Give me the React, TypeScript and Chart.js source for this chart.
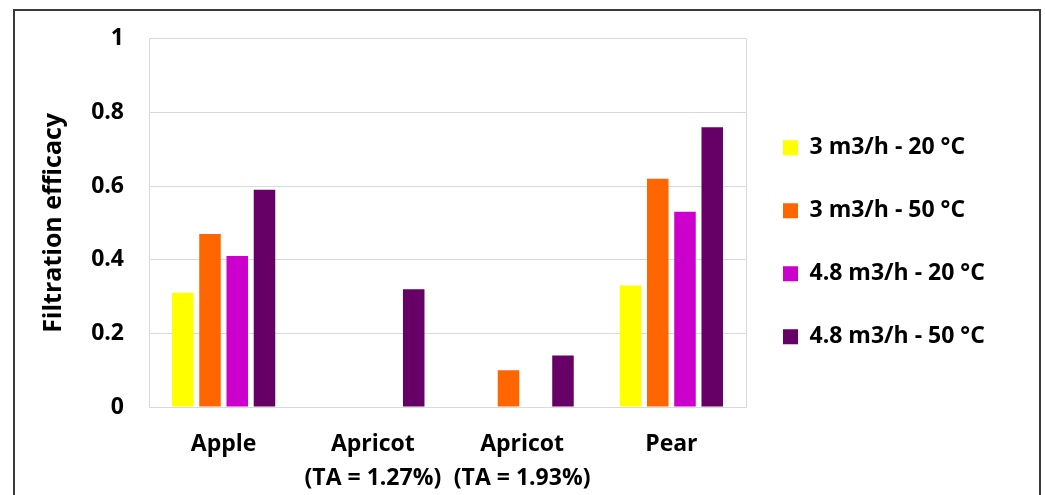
import React, { useEffect, useRef } from "react";
import { Chart, registerables } from "chart.js";

Chart.register(...registerables);

const categories: string[][] = [["Apple"], ["Apricot", "(TA = 1.27%)"], ["Apricot", "(TA = 1.93%)"], ["Pear"]];
const seriesNames = ["3 m3/h - 20 °C", "3 m3/h - 50 °C", "4.8 m3/h - 20 °C", "4.8 m3/h - 50 °C"];
const flow3Temp20 = [0.31, null, null, 0.33];
const flow3Temp50 = [0.47, null, 0.1, 0.62];
const flow48Temp20 = [0.41, null, null, 0.53];
const flow48Temp50 = [0.59, 0.32, 0.14, 0.76];
const seriesColors = ["#FFFF00", "#FF6600", "#CC00CC", "#660066"];
const yMin = 0;
const yMax = 1;
const yStep = 0.2;
const yTitle = "Filtration efficacy";

const FONT = "'Open Sans', Lato, sans-serif";

const plotFrame = {
  id: "plotFrame",
  afterDatasetsDraw(chart: any) {
    const { ctx, chartArea } = chart;
    ctx.save();
    ctx.strokeStyle = "#d9d9d9";
    ctx.lineWidth = 1;
    ctx.beginPath();
    ctx.moveTo(chartArea.right + 0.5, chartArea.top);
    ctx.lineTo(chartArea.right + 0.5, chartArea.bottom);
    ctx.stroke();
    ctx.restore();
  },
};

export default function App() {
  const ref = useRef<HTMLCanvasElement | null>(null);

  useEffect(() => {
    if (!ref.current) return;
    const allSeries = [flow3Temp20, flow3Temp50, flow48Temp20, flow48Temp50];
    const chart = new Chart(ref.current, {
      type: "bar",
      data: {
        labels: categories,
        datasets: allSeries.map((d, i) => ({
          label: seriesNames[i],
          data: d,
          backgroundColor: seriesColors[i],
          borderWidth: 0,
          categoryPercentage: 0.73,
          barPercentage: 0.79,
        })),
      },
      options: {
        responsive: false,
        maintainAspectRatio: false,
        animation: false,
        layout: { padding: { top: 37, bottom: 0, left: 14, right: 55 } },
        plugins: {
          tooltip: { enabled: false },
          legend: {
            position: "right",
            align: "start",
            fullSize: false,
            title: { display: true, text: " ", padding: 0, font: { size: 1, lineHeight: "60.5px" } },
            labels: {
              boxWidth: 15,
              boxHeight: 15,
              padding: 37,
              color: "#000",
              font: { family: FONT, size: 23, weight: "bold", lineHeight: "26px" },
              generateLabels: (c: any) => {
                const items = Chart.defaults.plugins.legend.labels.generateLabels(c);
                return items.map((it: any) => ({ ...it, text: [it.text], lineWidth: 0, strokeStyle: "transparent" }));
              },
            },
          },
        },
        scales: {
          x: {
            grid: { display: false },
            border: { display: true, color: "#d9d9d9", width: 1 },
            ticks: {
              color: "#000",
              padding: 12,
              maxRotation: 0,
              autoSkip: false,
              font: { family: FONT, size: 23, weight: "bold", lineHeight: "34px" },
            },
            afterFit: (s: any) => {
              s.height = 88;
            },
          },
          y: {
            min: yMin,
            max: yMax,
            grid: { color: "#d9d9d9", lineWidth: 1, drawTicks: false },
            border: { display: true, color: "#d9d9d9", width: 1 },
            ticks: {
              stepSize: yStep,
              color: "#000",
              padding: 25,
              font: { family: FONT, size: 23, weight: "bold" },
              callback: (v: any) => String(Math.round(Number(v) * 10) / 10),
            },
            title: {
              display: true,
              text: yTitle,
              color: "#000",
              padding: { top: 25, bottom: 0 },
              font: { family: FONT, size: 25, weight: "bold", lineHeight: 1.2 },
            },
            afterFit: (s: any) => {
              s.width = 135;
            },
          },
        },
      },
      plugins: [plotFrame],
    });
    return () => chart.destroy();
  }, []);

  return (
    <div style={{ position: "fixed", left: 0, top: 0, width: 1045, height: 495, background: "#fff", overflow: "hidden" }}>
      <canvas ref={ref} width={1045} height={495} style={{ position: "absolute", left: 0, top: 0 }} />
      <div
        style={{
          position: "absolute",
          left: 13,
          top: 9,
          width: 1024,
          height: 600,
          border: "2px solid #3a3a3a",
          pointerEvents: "none",
        }}
      />
    </div>
  );
}
